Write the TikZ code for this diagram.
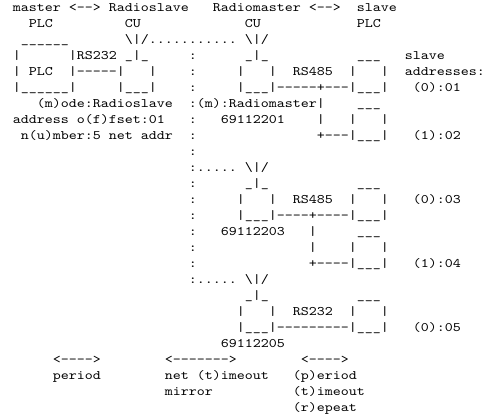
\documentclass[tikz,border=0pt]{standalone}
\usepackage{fontspec}
\setmonofont{lmmono10-regular.otf}[FakeStretch=1.1722]

\begin{document}
\begin{tikzpicture}[
        ascii/.style={
            font=\ttfamily\fontsize{13}{16}\selectfont,
            inner sep=0pt,
            anchor=base west
        },
        grid/.style={
            shift={(12.7pt,-11.5pt)},
            x=8pt,
            y=-16pt
        }
    ]

        \fill[white] (0,0) rectangle (490pt,-414pt);
        \useasboundingbox (0,0) rectangle (490pt,-414pt);

        \begin{scope}[grid]

        % ---------------------------------------------------------------------
        % Headings
        % ---------------------------------------------------------------------

        \node[ascii] (hdrMaster) at (0,0) {master <--> Radioslave};
        \node[ascii] (hdrRadiomaster) at (25,0) {Radiomaster <-->};
        \node[ascii] (hdrSlave) at (43,0) {slave};

        \node[ascii] (lblPlcM) at (2,1) {PLC};
        \node[ascii] (lblCuS) at (14,1) {CU};
        \node[ascii] (lblCuM) at (29,1) {CU};
        \node[ascii] (lblPlcS) at (43,1) {PLC};

        % ---------------------------------------------------------------------
        % Master PLC, radioslave and first radiomaster
        % ---------------------------------------------------------------------

        \node[ascii] (plcMTop) at (1,2) {\_\_\_\_\_\_};
        \node[ascii] (antS) at (14,2) {\textbackslash|/...........};
        \node[ascii] (antM1) at (29,2) {\textbackslash|/};

        \node[ascii] (plcML1) at (0,3) {|};
        \node[ascii] (rs232a) at (7,3) {|RS232};
        \node[ascii] (cuSTop) at (14,3) {\_|\_};
        \node[ascii] (dots3) at (22,3) {:};
        \node[ascii] (cuM1Top) at (29,3) {\_|\_};
        \node[ascii] (plc1Top) at (43,3) {\_\_\_};
        \node[ascii] (lblSlave) at (49,3) {slave};

        \node[ascii] (plcML2) at (0,4) {|};
        \node[ascii] (plcMName) at (2,4) {PLC};
        \node[ascii] (link232) at (7,4) {|-----|};
        \node[ascii] (cuSR) at (17,4) {|};
        \node[ascii] (dots4) at (22,4) {:};
        \node[ascii] (cuM1L) at (28,4) {|};
        \node[ascii] (cuM1R) at (32,4) {|};
        \node[ascii] (rs485a) at (35,4) {RS485};
        \node[ascii] (plc1L) at (42,4) {|};
        \node[ascii] (plc1R) at (46,4) {|};
        \node[ascii] (lblAddresses) at (49,4) {addresses:};

        \node[ascii] (plcMBot) at (0,5) {|\_\_\_\_\_\_|};
        \node[ascii] (cuSBot) at (13,5) {|\_\_\_|};
        \node[ascii] (dots5) at (22,5) {:};
        \node[ascii] (bus1) at (28,5) {|\_\_\_|-----+---|\_\_\_|};
        \node[ascii] (addr01) at (50,5) {(0):01};

        \node[ascii] (cfgMode) at (3,6) {(m)ode:Radioslave};
        \node[ascii] (cfgMaster) at (22,6) {:(m):Radiomaster|};
        \node[ascii] (plc2Top) at (43,6) {\_\_\_};

        \node[ascii] (cfgOffset) at (0,7) {address o(f)fset:01};
        \node[ascii] (dots7) at (22,7) {:};
        \node[ascii] (id01) at (26,7) {69112201};
        \node[ascii] (bus1V) at (38,7) {|};
        \node[ascii] (plc2L) at (42,7) {|};
        \node[ascii] (plc2R) at (46,7) {|};

        \node[ascii] (cfgNumber) at (1,8) {n(u)mber:5 net addr};
        \node[ascii] (dots8) at (22,8) {:};
        \node[ascii] (bus1Tap) at (38,8) {+---|\_\_\_|};
        \node[ascii] (addr02) at (50,8) {(1):02};

        \node[ascii] (dots9) at (22,9) {:};

        % ---------------------------------------------------------------------
        % Second radiomaster
        % ---------------------------------------------------------------------

        \node[ascii] (branch2) at (22,10) {:.....};
        \node[ascii] (antM2) at (29,10) {\textbackslash|/};

        \node[ascii] (dots11) at (22,11) {:};
        \node[ascii] (cuM2Top) at (29,11) {\_|\_};
        \node[ascii] (plc3Top) at (43,11) {\_\_\_};

        \node[ascii] (dots12) at (22,12) {:};
        \node[ascii] (cuM2L) at (28,12) {|};
        \node[ascii] (cuM2R) at (32,12) {|};
        \node[ascii] (rs485b) at (35,12) {RS485};
        \node[ascii] (plc3L) at (42,12) {|};
        \node[ascii] (plc3R) at (46,12) {|};
        \node[ascii] (addr03) at (50,12) {(0):03};

        \node[ascii] (dots13) at (22,13) {:};
        \node[ascii] (bus2) at (28,13) {|\_\_\_|----+----|\_\_\_|};

        \node[ascii] (dots14) at (22,14) {:};
        \node[ascii] (id03) at (26,14) {69112203};
        \node[ascii] (bus2V) at (37,14) {|};
        \node[ascii] (plc4Top) at (43,14) {\_\_\_};

        \node[ascii] (dots15) at (22,15) {:};
        \node[ascii] (bus2V2) at (37,15) {|};
        \node[ascii] (plc4L) at (42,15) {|};
        \node[ascii] (plc4R) at (46,15) {|};

        \node[ascii] (dots16) at (22,16) {:};
        \node[ascii] (bus2Tap) at (37,16) {+----|\_\_\_|};
        \node[ascii] (addr04) at (50,16) {(1):04};

        % ---------------------------------------------------------------------
        % Third radiomaster
        % ---------------------------------------------------------------------

        \node[ascii] (branch3) at (22,17) {:.....};
        \node[ascii] (antM3) at (29,17) {\textbackslash|/};

        \node[ascii] (cuM3Top) at (29,18) {\_|\_};
        \node[ascii] (plc5Top) at (43,18) {\_\_\_};

        \node[ascii] (cuM3L) at (28,19) {|};
        \node[ascii] (cuM3R) at (32,19) {|};
        \node[ascii] (rs232b) at (35,19) {RS232};
        \node[ascii] (plc5L) at (42,19) {|};
        \node[ascii] (plc5R) at (46,19) {|};

        \node[ascii] (bus3) at (28,20) {|\_\_\_|---------|\_\_\_|};
        \node[ascii] (addr05) at (50,20) {(0):05};

        \node[ascii] (id05) at (26,21) {69112205};

        % ---------------------------------------------------------------------
        % Timing legend
        % ---------------------------------------------------------------------

        \node[ascii] (spanPeriod) at (5,22) {<---->};
        \node[ascii] (spanTimeout) at (19,22) {<------->};
        \node[ascii] (spanRepeat) at (36,22) {<---->};

        \node[ascii] (lblPeriod) at (5,23) {period};
        \node[ascii] (lblNetTimeout) at (19,23) {net (t)imeout};
        \node[ascii] (lblP) at (35,23) {(p)eriod};

        \node[ascii] (lblMirror) at (19,24) {mirror};
        \node[ascii] (lblT) at (35,24) {(t)imeout};

        \node[ascii] (lblR) at (35,25) {(r)epeat};

        \end{scope}

    \end{tikzpicture}
\end{document}
